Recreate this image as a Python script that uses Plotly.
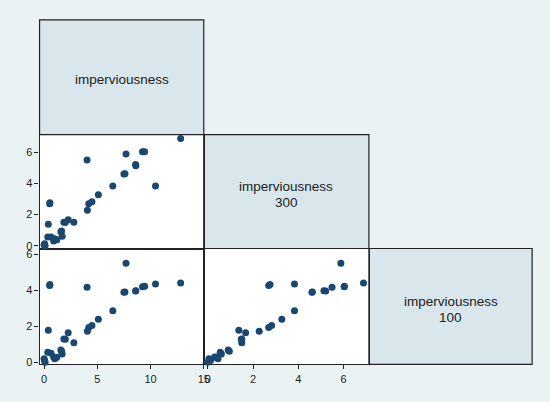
import plotly.graph_objects as go

# Data: three variables (one row per observation)
imp = [12.83, 4.04, 7.7, 9.25, 9.45, 8.6, 8.62, 7.5, 7.6, 10.47, 6.46, 5.1, 4.5, 4.2, 4.07,
       0.53, 0.55, 0.4, 2.27, 1.86, 2.0, 2.8, 1.58, 1.65, 1.7, 0.35, 0.66, 0.9, 1.2, 1.0,
       0.05, 0.0, 0.1]
imp300 = [6.88, 5.49, 5.88, 6.03, 6.03, 5.21, 5.13, 4.6, 4.62, 3.83, 3.83, 3.27, 2.82, 2.69, 2.27,
          2.69, 2.75, 1.37, 1.67, 1.5, 1.48, 1.5, 0.9, 0.95, 0.6, 0.55, 0.55, 0.3, 0.38, 0.45,
          0.12, 0.05, 0.0]
imp100 = [4.41, 4.17, 5.5, 4.2, 4.22, 3.96, 3.97, 3.89, 3.9, 4.35, 2.87, 2.39, 2.05, 1.93, 1.72,
          4.26, 4.32, 1.78, 1.65, 1.3, 1.28, 1.09, 0.69, 0.62, 0.46, 0.56, 0.5, 0.3, 0.28, 0.2,
          0.1, 0.2, 0.0]
labels = [["imperviousness"], ["imperviousness", "300"], ["imperviousness", "100"]]
ticks_imp = [0, 5, 10, 15]
ticks_300 = [0, 2, 4, 6]
ticks_100 = [0, 2, 4, 6]

W, H = 550, 402
xs = [40, 206, 373, 538]
ys = [20, 136, 251, 368]
def fx(p): return p / W
def fy(p): return 1 - p / H

navy = "#1a476f"
bg = "#eaf2f3"
diag = "#d9e6eb"
mk = dict(color=navy, size=7, line=dict(width=0))

fig = go.Figure()
fig.add_trace(go.Scatter(x=imp, y=imp300, mode="markers", marker=mk, xaxis="x2", yaxis="y2", cliponaxis=False))
fig.add_trace(go.Scatter(x=imp, y=imp100, mode="markers", marker=mk, xaxis="x", yaxis="y", cliponaxis=False))
fig.add_trace(go.Scatter(x=imp300, y=imp100, mode="markers", marker=mk, xaxis="x3", yaxis="y3", cliponaxis=False))

tickfont = dict(family="Liberation Sans, Arial", size=11, color="#222")
common = dict(showgrid=False, zeroline=False, showline=True, mirror=True, linecolor="#222",
              linewidth=1.2, layer="below traces", tickfont=tickfont, ticklen=4,
              tickcolor="#222", tickwidth=1)
r_imp = [-0.42, 15]
r_300 = [-0.18, 7.12]
r_100 = [-0.11, 6.32]

fig.update_layout(
    width=W, height=H, margin=dict(l=0, r=0, t=0, b=0),
    paper_bgcolor=bg, plot_bgcolor="white", showlegend=False,
    xaxis=dict(domain=[fx(xs[0]), fx(xs[1])], anchor="y", range=r_imp,
               tickvals=ticks_imp, ticks="outside", **common),
    yaxis=dict(domain=[fy(ys[3]), fy(ys[2])], anchor="x", range=r_100,
               tickvals=ticks_100, ticks="outside", **common),
    xaxis2=dict(domain=[fx(xs[0]), fx(xs[1])], anchor="y2", range=r_imp,
                showticklabels=False, ticks="", **common),
    yaxis2=dict(domain=[fy(ys[2]), fy(ys[1])], anchor="x2", range=r_300,
                tickvals=ticks_300, ticks="outside", **common),
    xaxis3=dict(domain=[fx(xs[1]), fx(xs[2])], anchor="y3", range=r_300,
                tickvals=ticks_300, ticks="outside", **common),
    yaxis3=dict(domain=[fy(ys[3]), fy(ys[2])], anchor="x3", range=r_100,
                showticklabels=False, ticks="", **common),
)

shapes = []
annos = []
lf = dict(family="Liberation Sans, Arial", size=13.5, color="#222")
for i in range(3):
    x0, x1 = xs[i], xs[i + 1]
    y0, y1 = ys[i], ys[i + 1]
    shapes.append(dict(type="rect", xref="paper", yref="paper",
                       x0=fx(x0), x1=fx(x1), y0=fy(y1), y1=fy(y0),
                       fillcolor=diag, line=dict(color="#222", width=1.2), layer="below"))
    cy = (y0 + y1) / 2
    lines = labels[i]
    offs = [2] if len(lines) == 1 else [-5, 11]
    for txt, off in zip(lines, offs):
        annos.append(dict(xref="paper", yref="paper", x=fx((x0 + x1) / 2), y=fy(cy + off),
                          xanchor="center", yanchor="middle",
                          text=txt, showarrow=False, font=lf))
fig.update_layout(shapes=shapes, annotations=annos)

fig.write_html("out.html")
